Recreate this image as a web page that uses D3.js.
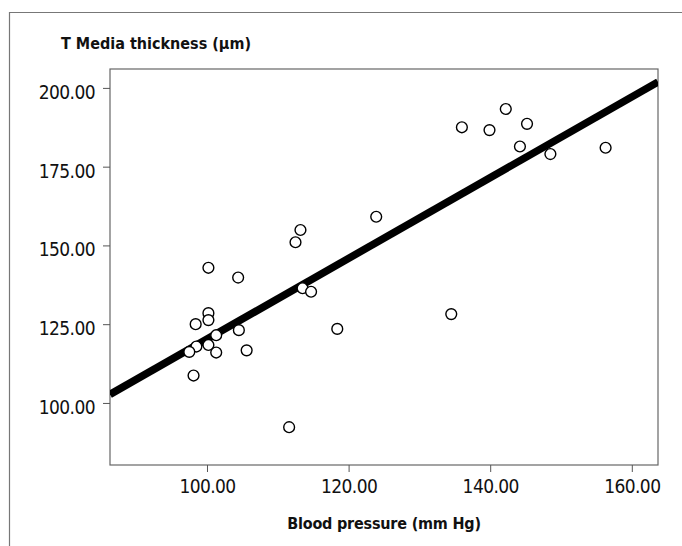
<!DOCTYPE html>
<html>
<head>
<meta charset="utf-8">
<script src="https://cdn.jsdelivr.net/npm/d3@7"></script>
<style>
    body { margin: 0; background: #fff; }
    svg text { font-family: "Liberation Sans Narrow", "Arial Narrow", "DejaVu Sans Condensed", sans-serif; fill: #111; }
</style>
</head>
<body>
<div id="chart-container"></div>
<script>
// Blood pressure (mm Hg) for each subject
const bloodPressure = [
    136.0, 139.9, 142.2, 145.2, 144.2, 148.5, 156.3, 123.9, 112.5, 113.2,
    100.2, 104.4, 113.5, 114.7, 100.2, 100.2, 98.4, 104.5, 118.4, 101.3,
    98.5, 100.2, 97.5, 101.3, 105.6, 98.1, 111.6, 134.5
];

// T media thickness (um) for each subject
const mediaThickness = [
    187.5, 186.6, 193.3, 188.6, 181.4, 179.0, 181.0, 159.1, 151.0, 154.9,
    142.9, 139.8, 136.4, 135.3, 128.5, 126.3, 125.0, 123.1, 123.5, 121.5,
    117.9, 118.4, 116.2, 116.0, 116.7, 108.7, 92.3, 128.2
];

// Fit line end points (x, y)
const fitX = [86.3, 163.7];
const fitY = [102.7, 201.9];

// Tick values
const xTicks = [100, 120, 140, 160];
const yTicks = [100, 125, 150, 175, 200];

const width = 682;
const height = 546;
const plot = { left: 110, top: 69, right: 658, bottom: 465 };

const svg = d3.select("#chart-container")
    .append("svg")
    .attr("width", width)
    .attr("height", height);

// Outer frame (top and left edges only)
svg.append("path")
    .attr("d", `M9.5,${height} V12.5 H${width}`)
    .attr("fill", "none")
    .attr("stroke", "#777")
    .attr("stroke-width", 1.2);

// Scales
const x = d3.scaleLinear()
    .domain([86.3, 163.7])
    .range([plot.left, plot.right]);

const y = d3.scaleLinear()
    .domain([80.3, 206.0])
    .range([plot.bottom, plot.top]);

// Plot box
svg.append("rect")
    .attr("x", plot.left)
    .attr("y", plot.top)
    .attr("width", plot.right - plot.left)
    .attr("height", plot.bottom - plot.top)
    .attr("fill", "none")
    .attr("stroke", "#666")
    .attr("stroke-width", 1.2);

// X axis
const xAxis = svg.append("g")
    .attr("transform", `translate(0,${plot.bottom})`)
    .call(d3.axisBottom(x).tickValues(xTicks).tickSize(7).tickPadding(8).tickFormat(d3.format(".2f")));
xAxis.select(".domain").remove();
xAxis.selectAll("line").attr("stroke", "#555");
xAxis.selectAll("text").attr("font-size", 19).attr("letter-spacing", -0.6).attr("fill", "#111");

// Y axis
const yAxis = svg.append("g")
    .attr("transform", `translate(${plot.left},0)`)
    .call(d3.axisLeft(y).tickValues(yTicks).tickSize(7).tickPadding(8).tickFormat(d3.format(".2f")));
yAxis.select(".domain").remove();
yAxis.selectAll("line").attr("stroke", "#555");
yAxis.selectAll("text").attr("font-size", 19).attr("letter-spacing", -0.6).attr("dy", "0.55em").attr("fill", "#111");

// Axis titles
svg.append("text")
    .attr("x", 61)
    .attr("y", 49)
    .attr("font-size", 16)
    .attr("font-weight", "bold")
    .text("T Media thickness (µm)");

svg.append("text")
    .attr("x", (plot.left + plot.right) / 2)
    .attr("y", 529)
    .attr("text-anchor", "middle")
    .attr("font-size", 16)
    .attr("font-weight", "bold")
    .attr("letter-spacing", -0.2)
    .text("Blood pressure (mm Hg)");

// Clip for the fit line
svg.append("clipPath")
    .attr("id", "plot-clip")
    .append("rect")
    .attr("x", plot.left)
    .attr("y", plot.top)
    .attr("width", plot.right - plot.left)
    .attr("height", plot.bottom - plot.top);

// Fit line
svg.append("line")
    .attr("clip-path", "url(#plot-clip)")
    .attr("x1", x(fitX[0]))
    .attr("y1", y(fitY[0]))
    .attr("x2", x(fitX[1]))
    .attr("y2", y(fitY[1]))
    .attr("stroke", "#000")
    .attr("stroke-width", 7.5);

// Points
svg.selectAll("circle")
    .data(bloodPressure.map((d, i) => [d, mediaThickness[i]]))
    .enter()
    .append("circle")
    .attr("cx", d => x(d[0]))
    .attr("cy", d => y(d[1]))
    .attr("r", 5.4)
    .attr("fill", "#fff")
    .attr("stroke", "#000")
    .attr("stroke-width", 1.4);
</script>
</body>
</html>
